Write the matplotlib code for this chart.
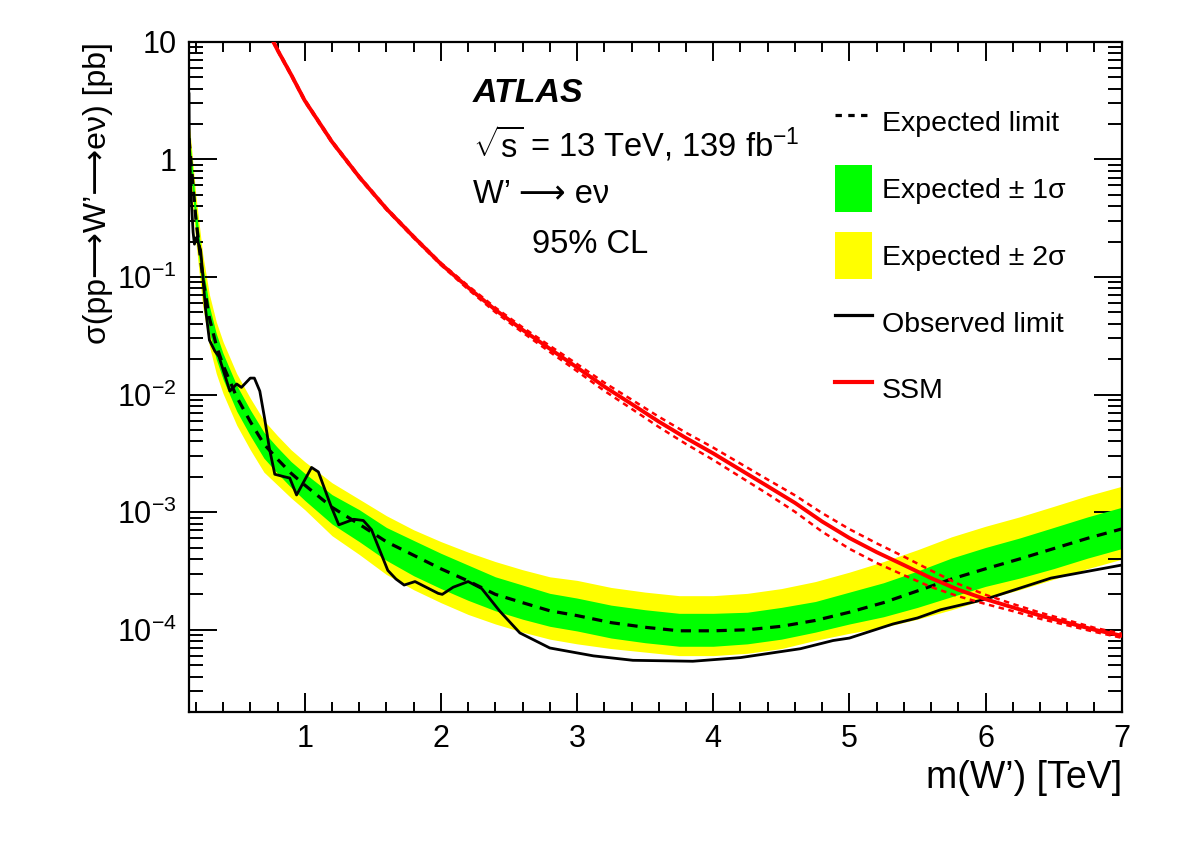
import numpy as np
import matplotlib
matplotlib.use("Agg")
import matplotlib.pyplot as plt
from matplotlib.ticker import FixedLocator, LogLocator, FuncFormatter, NullFormatter
from matplotlib.lines import Line2D
from matplotlib.patches import Patch

# expected limit and its bands [pb] vs m(W') [TeV]
exp_mass = [0.15, 0.2, 0.25, 0.3, 0.35, 0.4, 0.5, 0.6, 0.7, 0.8, 0.9, 1.0,
            1.2, 1.4, 1.6, 1.8, 2.0, 2.2, 2.4, 2.6, 2.8, 3.0, 3.25, 3.5,
            3.75, 4.0, 4.25, 4.5, 4.75, 5.0, 5.25, 5.5, 5.75, 6.0, 6.25,
            6.5, 6.75, 7.0]
exp_limit = [1.51, 0.316, 0.100, 0.0447, 0.0263, 0.0178, 0.00955, 0.00589,
             0.00380, 0.00282, 0.00214, 0.00170, 0.00110, 7.9e-4, 5.6e-4,
             4.3e-4, 3.3e-4, 2.6e-4, 2.0e-4, 1.7e-4, 1.45e-4, 1.32e-4,
             1.15e-4, 1.05e-4, 9.8e-5, 9.8e-5, 1.0e-4, 1.07e-4, 1.2e-4,
             1.41e-4, 1.7e-4, 2.14e-4, 2.7e-4, 3.3e-4, 4.0e-4, 4.9e-4,
             6.0e-4, 7.2e-4]
green_hi = [1.82, 0.398, 0.126, 0.0562, 0.0331, 0.0224, 0.0120, 0.00741,
            0.00479, 0.00355, 0.00269, 0.00214, 0.00141, 0.00105, 7.41e-4,
            5.75e-4, 4.47e-4, 3.55e-4, 2.82e-4, 2.40e-4, 2.04e-4, 1.86e-4,
            1.62e-4, 1.48e-4, 1.38e-4, 1.38e-4, 1.41e-4, 1.55e-4, 1.74e-4,
            2.09e-4, 2.51e-4, 3.16e-4, 4.07e-4, 5.01e-4, 6.03e-4, 7.41e-4,
            9.12e-4, 1.10e-3]
green_lo = [1.20, 0.251, 0.0759, 0.0339, 0.0200, 0.0135, 0.00724, 0.00447,
            0.00288, 0.00214, 0.00162, 0.00126, 7.94e-4, 5.62e-4, 3.89e-4,
            2.88e-4, 2.24e-4, 1.78e-4, 1.45e-4, 1.23e-4, 1.07e-4, 9.77e-5,
            8.51e-5, 7.76e-5, 7.24e-5, 7.24e-5, 7.59e-5, 8.32e-5, 9.55e-5,
            1.12e-4, 1.29e-4, 1.55e-4, 1.91e-4, 2.34e-4, 2.75e-4, 3.31e-4,
            4.07e-4, 4.90e-4]
yellow_hi = [2.14, 0.501, 0.158, 0.0708, 0.0417, 0.0282, 0.0151, 0.00933,
             0.00603, 0.00447, 0.00339, 0.00269, 0.00178, 0.00129, 9.33e-4,
             7.08e-4, 5.62e-4, 4.57e-4, 3.80e-4, 3.24e-4, 2.82e-4, 2.63e-4,
             2.29e-4, 2.09e-4, 1.95e-4, 1.95e-4, 2.04e-4, 2.24e-4, 2.57e-4,
             3.09e-4, 3.80e-4, 4.79e-4, 6.17e-4, 7.59e-4, 9.12e-4, 1.12e-3,
             1.38e-3, 1.66e-3]
yellow_lo = [0.955, 0.200, 0.0575, 0.0257, 0.0151, 0.0102, 0.00550, 0.00339,
             0.00219, 0.00170, 0.00132, 0.00105, 6.31e-4, 4.37e-4, 2.95e-4,
             2.19e-4, 1.70e-4, 1.35e-4, 1.12e-4, 9.55e-5, 8.32e-5, 7.59e-5,
             6.92e-5, 6.46e-5, 6.03e-5, 6.03e-5, 6.31e-5, 6.92e-5, 8.13e-5,
             9.33e-5, 1.05e-4, 1.23e-4, 1.48e-4, 1.82e-4, 2.19e-4, 2.69e-4,
             3.31e-4, 3.98e-4]

# observed limit
obs_mass = [0.150, 0.152, 0.165, 0.18, 0.19, 0.20, 0.21, 0.22, 0.235, 0.25,
            0.27, 0.30, 0.34, 0.37, 0.45, 0.50, 0.535, 0.60, 0.63, 0.67,
            0.705, 0.74, 0.78, 0.85, 0.89, 0.94, 1.05, 1.10, 1.19, 1.25,
            1.36, 1.43, 1.49, 1.61, 1.67, 1.73, 1.81, 1.98, 2.01, 2.09,
            2.20, 2.30, 2.43, 2.58, 2.80, 3.12, 3.41, 3.85, 4.20, 4.64,
            4.88, 5.00, 5.32, 5.50, 5.67, 6.00, 6.48, 7.00]
obs_limit = [3.6, 1.4, 0.5, 0.24, 0.19, 0.21, 0.22, 0.19, 0.17, 0.11,
             0.055, 0.029, 0.0234, 0.021, 0.0107, 0.0123, 0.0115, 0.0138,
             0.0138, 0.0107, 0.0063, 0.0035, 0.0021, 0.0020, 0.00195, 0.0014,
             0.0024, 0.0022, 0.00115, 7.8e-4, 8.7e-4, 8.5e-4, 7.1e-4, 3.2e-4,
             2.7e-4, 2.4e-4, 2.57e-4, 2.04e-4, 2.0e-4, 2.3e-4, 2.57e-4,
             2.24e-4, 1.45e-4, 9.4e-5, 7.0e-5, 6.0e-5, 5.5e-5, 5.4e-5, 5.8e-5,
             6.9e-5, 8.1e-5, 8.5e-5, 1.12e-4, 1.26e-4, 1.48e-4, 1.82e-4,
             2.75e-4, 3.55e-4]

# SSM theory cross section and its relative uncertainty [%]
ssm_mass = [0.7, 0.8, 0.9, 1.0, 1.2, 1.4, 1.6, 1.8, 2.0, 2.2, 2.4, 2.6, 2.8,
            3.0, 3.2, 3.4, 3.6, 3.8, 4.0, 4.2, 4.4, 4.6, 4.8, 5.0, 5.2, 5.4,
            5.6, 5.8, 6.0, 6.2, 6.4, 6.6, 6.8, 7.0]
ssm_xsec = [14.45, 8.51, 5.25, 3.16, 1.41, 0.708, 0.380, 0.219, 0.129,
            0.0813, 0.0525, 0.0355, 0.0245, 0.0170, 0.0117, 0.00832, 0.00589,
            0.00427, 0.00316, 0.00229, 0.00166, 0.00120, 8.32e-4, 6.03e-4,
            4.57e-4, 3.55e-4, 2.75e-4, 2.19e-4, 1.82e-4, 1.55e-4, 1.32e-4,
            1.15e-4, 1.00e-4, 8.9e-5]
ssm_unc = [2, 2, 2, 2, 2, 2, 2, 2, 2, 3.5, 4.5, 5, 6, 7, 8, 9, 10, 11, 12,
           13, 14, 16, 18, 19, 19, 18, 16, 12, 9, 7, 6, 5, 4, 4]

plt.rcParams['font.family'] = ['Liberation Sans', 'DejaVu Sans']
plt.rcParams['mathtext.fontset'] = 'custom'
plt.rcParams['mathtext.rm'] = 'Liberation Sans'
plt.rcParams['mathtext.it'] = 'Liberation Sans:italic'
plt.rcParams['mathtext.bf'] = 'Liberation Sans:bold'


def ytick_fmt(y, pos):
    e = int(round(np.log10(y)))
    if e == 1:
        return "10"
    if e == 0:
        return "1"
    return r"$10^{%d}$" % e


def main():
    fig = plt.figure(figsize=(11.82, 8.48), dpi=100)
    ax = fig.add_axes([0.1599, 0.1604, 0.7891, 0.7904])

    ssm = np.array(ssm_xsec)
    unc = np.array(ssm_unc) / 100.0

    ax.fill_between(exp_mass, yellow_lo, yellow_hi, color="#ffff00", lw=0, zorder=1)
    ax.fill_between(exp_mass, green_lo, green_hi, color="#00ff00", lw=0, zorder=2)
    ax.plot(exp_mass, exp_limit, color="k", lw=2.3, dashes=(3.2, 2.4), zorder=3)
    ax.plot(obs_mass, obs_limit, color="k", lw=2.0, zorder=4)
    ax.plot(ssm_mass, ssm * (1 + unc), color="#ff0000", lw=1.8, dashes=(2.2, 1.8), zorder=5)
    ax.plot(ssm_mass, ssm * (1 - unc), color="#ff0000", lw=1.8, dashes=(2.2, 1.8), zorder=5)
    ax.plot(ssm_mass, ssm, color="#ff0000", lw=2.8, zorder=6)

    ax.set_yscale("log")
    ax.set_xlim(0.15, 7)
    ax.set_ylim(2e-5, 10)

    ax.xaxis.set_major_locator(FixedLocator([1, 2, 3, 4, 5, 6, 7]))
    ax.xaxis.set_minor_locator(FixedLocator(np.arange(0.2, 7.0, 0.2)))
    ax.yaxis.set_major_locator(LogLocator(base=10, numticks=12))
    ax.yaxis.set_minor_locator(LogLocator(base=10, subs=np.arange(2, 10), numticks=12))
    ax.yaxis.set_major_formatter(FuncFormatter(ytick_fmt))
    ax.yaxis.set_minor_formatter(NullFormatter())

    ax.tick_params(which="both", direction="in", top=True, right=True,
                   width=1.4, labelsize=22)
    ax.tick_params(axis="x", which="major", length=13.5, pad=9)
    ax.tick_params(axis="x", which="minor", length=7)
    ax.tick_params(axis="y", which="major", length=20, pad=9)
    ax.tick_params(axis="y", which="minor", length=10)
    for s in ax.spines.values():
        s.set_linewidth(1.6)

    ax.set_xlabel("m(W’) [TeV]", fontsize=27, loc="right", labelpad=4)
    ax.set_ylabel("σ(pp⟶W’⟶eν) [pb]", fontsize=23, loc="top")
    ax.yaxis.set_label_coords(-0.081, 1.0)

    fig.text(0.4002, 0.8797, "ATLAS", fontsize=24.5, fontweight="bold",
             fontstyle="italic", va="baseline")
    fig.text(0.4002, 0.8149, r"$\sqrt{\mathrm{s}}$ = 13 TeV, 139 fb$^{-1}$",
             fontsize=23.5, va="baseline")
    fig.text(0.4002, 0.7606, "W’ ⟶ eν", fontsize=23.5, va="baseline")
    fig.text(0.4501, 0.7017, "95% CL", fontsize=23.5, va="baseline")

    handles = [Line2D([], [], color="k", lw=2.3, dashes=(2.0, 2.0)),
               Patch(facecolor="#00ff00", edgecolor="none"),
               Patch(facecolor="#ffff00", edgecolor="none"),
               Line2D([], [], color="k", lw=2.3),
               Line2D([], [], color="#ff0000", lw=3)]
    labels = ["Expected limit", "Expected ± 1σ", "Expected ± 2σ",
              "Observed limit", "SSM"]
    ax.legend(handles, labels, loc="upper left",
              bbox_to_anchor=(0.7064, 0.8838), bbox_transform=fig.transFigure,
              frameon=False, fontsize=20.5, handlelength=1.3, handleheight=2.16,
              labelspacing=0.7, handletextpad=0.35, borderpad=0, borderaxespad=0)

    fig.savefig("out.png", dpi=100)


if __name__ == "__main__":
    main()
